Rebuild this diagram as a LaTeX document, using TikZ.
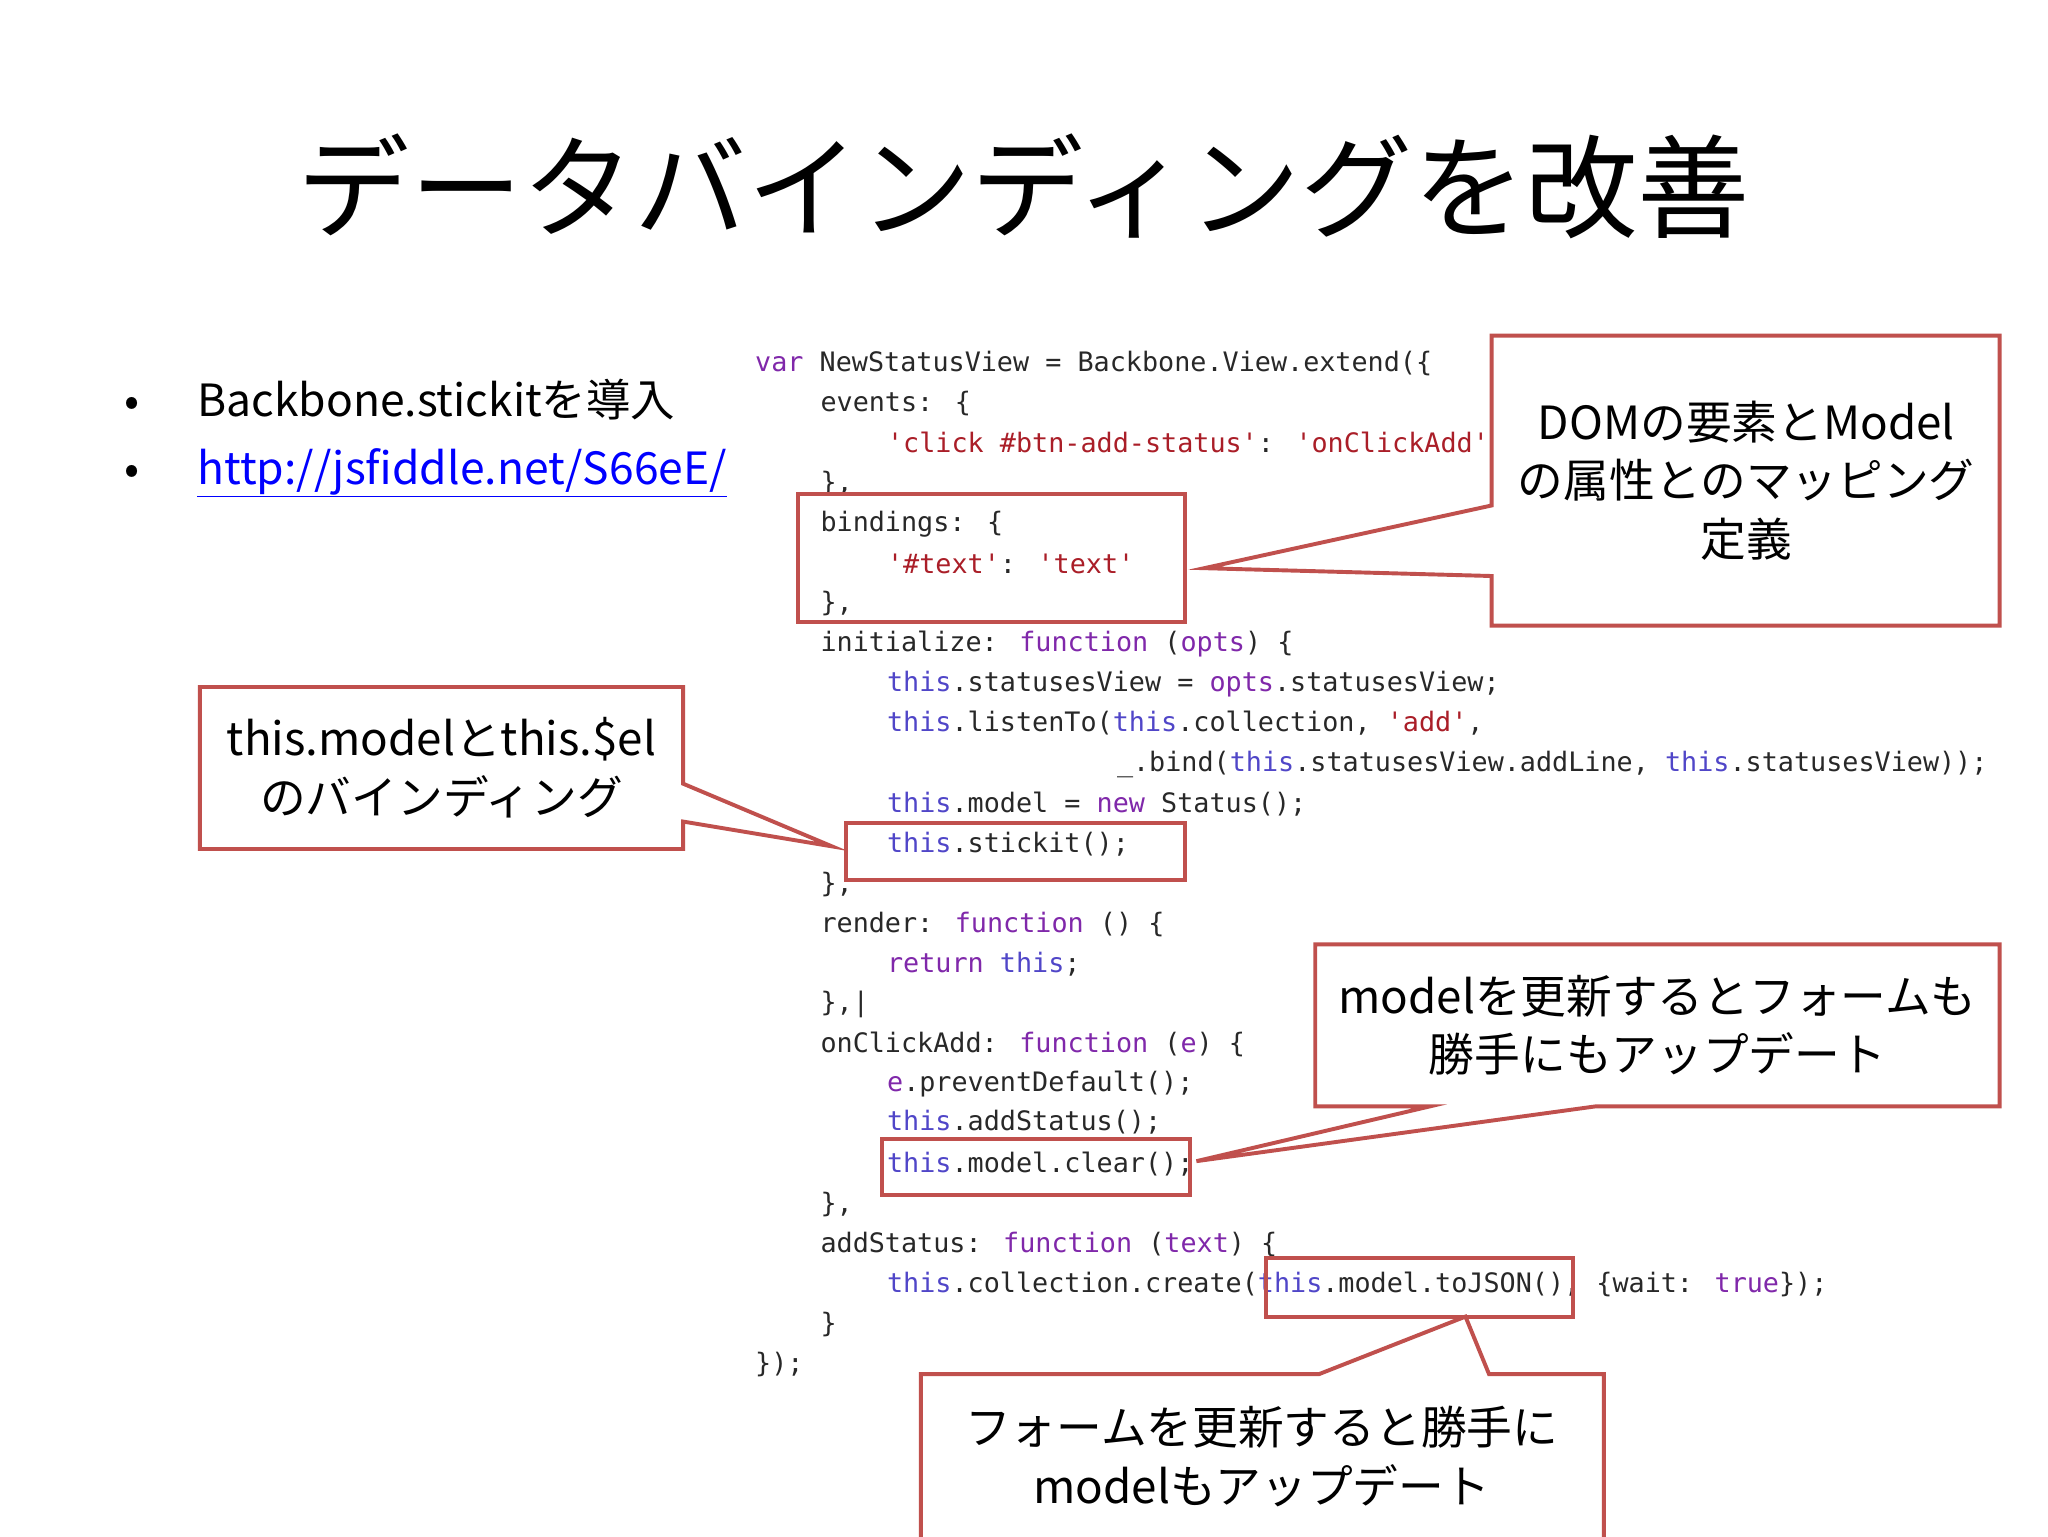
\documentclass[tikz,border=0pt]{standalone}
\usepackage{fontspec}
\setmainfont{Noto Sans CJK JP}
\newfontfamily\jp{Noto Sans CJK JP}
\newfontfamily\cmono{DejaVu Sans Mono}
\definecolor{kw}{RGB}{128,40,170}
\definecolor{thisc}{RGB}{80,70,200}
\definecolor{str}{RGB}{170,30,40}
\definecolor{codec}{RGB}{40,40,40}
\definecolor{callred}{RGB}{192,80,77}
\newcommand\K[1]{\textcolor{kw}{#1}}
\newcommand\T{\textcolor{thisc}{this}}
\newcommand\Sq[1]{\textcolor{str}{#1}}
\begin{document}
\begin{tikzpicture}[x=1pt,y=-1pt,
  code/.style={anchor=west,inner sep=0pt,font=\cmono\fontsize{20.5}{24}\selectfont,text=codec},
  hl/.style={draw=callred,line width=3pt},
  callout/.style={draw=callred,line width=3pt,fill=white,line join=miter},
  ctext/.style={align=center,font=\jp\fontsize{35}{45}\selectfont,inner sep=0pt}]
\useasboundingbox[fill=white] (0,0) rectangle (1568,1176);
\node[anchor=center,font=\jp\fontsize{86}{92}\selectfont] (title) at (784,143) {データバインディングを改善};
\node[anchor=west,font=\jp\fontsize{34}{40}\selectfont] (b1) at (92,306) {•\hspace{44pt}Backbone.stickitを導入};
\node[anchor=west,font=\jp\fontsize{34}{40}\selectfont] (b2) at (92,362) {•\hspace{44pt}\textcolor{blue}{\underline{http://jsfiddle.net/S66eE/}}};
% code
\node[code] (c1) at (578,278) {\K{var} NewStatusView = Backbone.View.extend(\{};
\node[code] (c2) at (628,309) {events: \{};
\node[code] (c3) at (679,339) {\Sq{'click \#btn-add-status'}: \Sq{'onClickAdd'}};
\node[code] (c4) at (628,370) {\},};
\node[code] (c5) at (628,401) {bindings: \{};
\node[code] (c6) at (679,432) {\Sq{'\#text'}: \Sq{'text'}};
\node[code] (c7) at (628,462) {\},};
\node[code] (c8) at (628,493) {initialize: \K{function} (\K{opts}) \{};
\node[code] (c9) at (679,524) {\T.statusesView = \K{opts}.statusesView;};
\node[code] (c10) at (679,554) {\T.listenTo(\T.collection, \Sq{'add'},};
\node[code] (c11) at (855,585) {\_.bind(\T.statusesView.addLine, \T.statusesView));};
\node[code] (c12) at (679,616) {\T.model = \K{new} Status();};
\node[code] (c13) at (679,646) {\T.stickit();};
\node[code] (c14) at (628,677) {\},};
\node[code] (c15) at (628,708) {render: \K{function} () \{};
\node[code] (c16) at (679,738) {\K{return} \T;};
\node[code] (c17) at (628,769) {\},|};
\node[code] (c18) at (628,800) {onClickAdd: \K{function} (\K{e}) \{};
\node[code] (c19) at (679,830) {\K{e}.preventDefault();};
\node[code] (c20) at (679,859) {\T.addStatus();};
\node[code] (c21) at (679,891) {\T.model.clear();};
\node[code] (c22) at (628,922) {\},};
\node[code] (c23) at (628,953) {addStatus: \K{function} (\K{text}) \{};
\node[code] (c24) at (679,983) {\T.collection.create(\T.model.toJSON(), \{wait: \K{true}\});};
\node[code] (c25) at (628,1014) {\}};
\node[code] (c26) at (578,1045) {\});};
% highlight boxes
\draw[hl] (611,378) rectangle (907,476);
\draw[hl] (648,630) rectangle (907,674);
\draw[hl] (675,872) rectangle (911,915);
\draw[hl] (969,963) rectangle (1204,1008);
% callouts
\draw[callout] (1142,257) -- (1531,257) -- (1531,479) -- (1142,479) -- (1142,441) -- (922,435) -- (1142,387) -- cycle;
\node[ctext] (t1) at (1337,368) {DOMの要素とModel\\の属性とのマッピング\\定義};
\draw[callout] (153,526) -- (523,526) -- (523,600) -- (637,648) -- (523,629) -- (523,650) -- (153,650) -- cycle;
\node[ctext] (t2) at (338,588) {this.modelとthis.\$el\\のバインディング};
\draw[callout] (1007,723) -- (1531,723) -- (1531,847) -- (1222,847) -- (916,889) -- (1095,847) -- (1007,847) -- cycle;
\node[ctext] (t3) at (1269,785) {modelを更新するとフォームも\\勝手にもアップデート};
\draw[callout] (705,1052) -- (1010,1052) -- (1122,1008) -- (1140,1052) -- (1228,1052) -- (1228,1180) -- (705,1180) -- cycle;
\node[ctext] (t4) at (966,1115) {フォームを更新すると勝手に\\modelもアップデート};
\end{tikzpicture}
\end{document}
